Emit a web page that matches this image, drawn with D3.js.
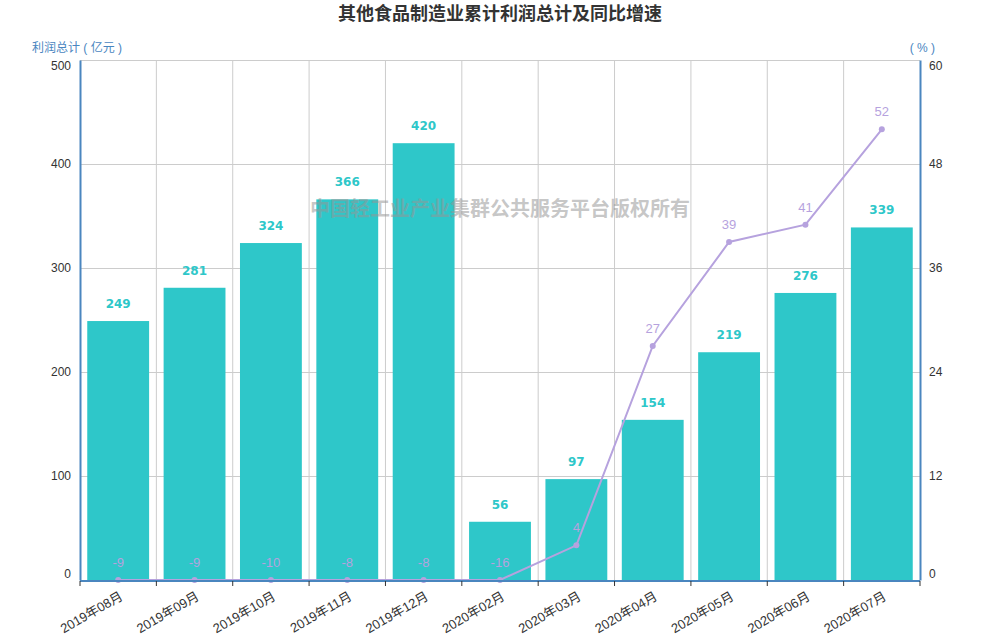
<html>
<meta charset="UTF-8">
<head>
  <style>
    body { margin: 0; background: #fff; }
    text { font-family: "Liberation Sans", Arial, "Noto Sans CJK SC", sans-serif; }
  </style>
</head>
<script src="https://d3js.org/d3.v7.min.js"></script>
<body>
  <div id="chart"></div>
  <script>
    // data
    var months = ["2019年08月", "2019年09月", "2019年10月", "2019年11月", "2019年12月", "2020年02月",
      "2020年03月", "2020年04月", "2020年05月", "2020年06月", "2020年07月"];
    var profit = [249, 281, 324, 366, 420, 56, 97, 154, 219, 276, 339];
    var growth = [-9, -9, -10, -8, -8, -16, 4, 27, 39, 41, 52];
    var leftTicks = [0, 100, 200, 300, 400, 500];
    var rightTicks = [0, 12, 24, 36, 48, 60];

    var width = 1000;
    var height = 640;
    var margin = { top: 60, bottom: 60, left: 80, right: 80 };
    var chartWidth = width - margin.left - margin.right;
    var chartHeight = height - margin.top - margin.bottom;

    var barColor = "#2ec7c9";
    var lineColor = "#b6a2de";
    var axisColor = "#4a86bf";

    var svg = d3.select("#chart").append("svg")
      .attr("width", width)
      .attr("height", height);

    var g = svg.append("g")
      .attr("transform", "translate(" + margin.left + "," + margin.top + ")");

    var xScale = d3.scaleBand()
      .domain(months)
      .range([0, chartWidth])
      .paddingInner(0.19)
      .paddingOuter(0.095);

    var bandScale = d3.scaleBand()
      .domain(months)
      .range([0, chartWidth]);

    var yLeft = d3.scaleLinear().domain([0, 500]).range([chartHeight, 0]);
    var yRight = d3.scaleLinear().domain([0, 60]).range([chartHeight, 0]).clamp(true);

    // horizontal gridlines
    g.append("g")
      .call(d3.axisLeft(yLeft).tickValues(leftTicks).tickSize(-chartWidth).tickFormat(""))
      .call(a => a.select(".domain").remove())
      .selectAll("line").attr("stroke", "#ccc");

    // vertical gridlines at category boundaries
    var bounds = months.map(m => bandScale(m)).concat([chartWidth]);
    g.append("g").selectAll("line")
      .data(bounds.slice(1, -1))
      .enter().append("line")
      .attr("x1", d => d).attr("x2", d => d)
      .attr("y1", 0).attr("y2", chartHeight)
      .attr("stroke", "#ccc");

    // bars
    g.selectAll(".bar")
      .data(profit)
      .enter().append("rect")
      .attr("class", "bar")
      .attr("x", (d, i) => xScale(months[i]))
      .attr("y", d => yLeft(d))
      .attr("width", xScale.bandwidth())
      .attr("height", d => chartHeight - yLeft(d))
      .attr("fill", barColor);

    // bar labels
    g.selectAll(".barLabel")
      .data(profit)
      .enter().append("text")
      .attr("class", "barLabel")
      .attr("x", (d, i) => bandScale(months[i]) + bandScale.bandwidth() / 2)
      .attr("y", d => yLeft(d) - 13)
      .attr("text-anchor", "middle")
      .attr("font-size", 12)
      .attr("font-weight", "bold")
      .style("font-family", "'DejaVu Sans', sans-serif")
      .attr("fill", barColor)
      .text(d => d);

    // watermark
    g.append("text")
      .attr("x", chartWidth / 2)
      .attr("y", 156)
      .attr("text-anchor", "middle")
      .attr("font-size", 20)
      .attr("font-weight", "bold")
      .style("font-family", "'Noto Sans CJK SC', sans-serif")
      .attr("fill", "rgba(150,150,150,0.55)")
      .text("中国轻工业产业集群公共服务平台版权所有");

    // growth line
    var line = d3.line()
      .x((d, i) => bandScale(months[i]) + bandScale.bandwidth() / 2)
      .y(d => yRight(d));

    g.append("path")
      .datum(growth)
      .attr("d", line)
      .attr("fill", "none")
      .attr("stroke", lineColor)
      .attr("stroke-width", 2);

    g.selectAll(".dot")
      .data(growth)
      .enter().append("circle")
      .attr("cx", (d, i) => bandScale(months[i]) + bandScale.bandwidth() / 2)
      .attr("cy", d => yRight(d))
      .attr("r", 3)
      .attr("fill", lineColor);

    g.selectAll(".lineLabel")
      .data(growth)
      .enter().append("text")
      .attr("x", (d, i) => bandScale(months[i]) + bandScale.bandwidth() / 2)
      .attr("y", d => yRight(d) - 13)
      .attr("text-anchor", "middle")
      .attr("font-size", 13)
      .attr("fill", lineColor)
      .text(d => d);

    // min / max labels sit inside the axis range
    function shiftEnds(sel, n) {
      sel.selectAll("text")
        .attr("font-size", 12)
        .attr("fill", "#333")
        .attr("dy", (d, i) => i === 0 ? "-0.25em" : (i === n - 1 ? "0.8em" : "0.32em"));
    }

    // left axis
    var leftAxis = g.append("g")
      .call(d3.axisLeft(yLeft).tickValues(leftTicks).tickSize(0).tickPadding(9));
    leftAxis.select(".domain").attr("stroke", axisColor).attr("stroke-width", 2);
    shiftEnds(leftAxis, leftTicks.length);

    // right axis
    var rightAxis = g.append("g")
      .attr("transform", `translate(${chartWidth},0)`)
      .call(d3.axisRight(yRight).tickValues(rightTicks).tickSize(0).tickPadding(9));
    rightAxis.select(".domain").attr("stroke", axisColor).attr("stroke-width", 2);
    shiftEnds(rightAxis, rightTicks.length);

    // bottom axis
    var xAxis = g.append("g")
      .attr("transform", `translate(0,${chartHeight + 1})`);
    xAxis.append("line")
      .attr("x1", 0).attr("x2", chartWidth)
      .attr("stroke", axisColor).attr("stroke-width", 2);
    xAxis.selectAll(".tick")
      .data(bounds)
      .enter().append("line")
      .attr("x1", d => d).attr("x2", d => d)
      .attr("y1", 0).attr("y2", 5)
      .attr("stroke", "#333");
    xAxis.selectAll(".xlabel")
      .data(months)
      .enter().append("text")
      .attr("transform", d => `translate(${bandScale(d) + bandScale.bandwidth() / 2 + 1},10) rotate(-30)`)
      .attr("text-anchor", "end")
      .attr("dy", "0.7em")
      .attr("font-size", 13)
      .attr("fill", "#333")
      .text(d => d);

    // axis names
    svg.append("text")
      .attr("x", 32).attr("y", 52)
      .attr("font-size", 12)
      .attr("fill", axisColor)
      .attr("xml:space", "preserve")
      .text("利润总计 ( 亿元 )");

    svg.append("text")
      .attr("x", 935).attr("y", 52)
      .attr("text-anchor", "end")
      .attr("font-size", 12)
      .attr("fill", axisColor)
      .attr("xml:space", "preserve")
      .text("( % )");

    // title
    svg.append("text")
      .attr("x", width / 2).attr("y", 20)
      .attr("text-anchor", "middle")
      .attr("font-size", 18)
      .attr("font-weight", "bold")
      .attr("fill", "#333")
      .text("其他食品制造业累计利润总计及同比增速");
  </script>
</body>
</html>
